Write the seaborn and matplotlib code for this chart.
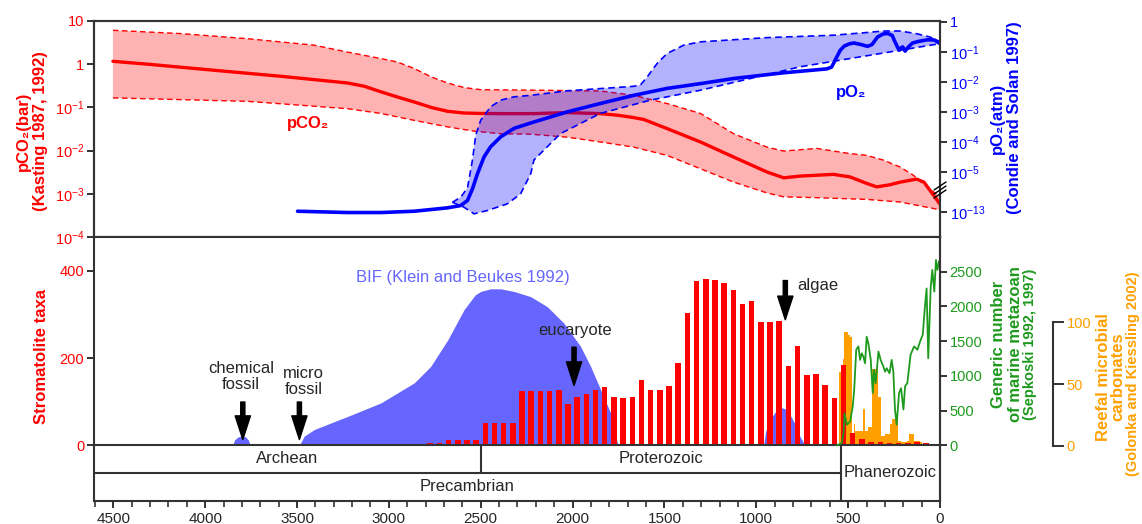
import numpy as np
import matplotlib
matplotlib.use("Agg")
import matplotlib.pyplot as plt
import seaborn as sns
from matplotlib.ticker import FixedLocator, NullLocator, MultipleLocator
from matplotlib.lines import Line2D

sns.set_style("ticks")
plt.rcParams['font.family'] = ['Liberation Sans', 'DejaVu Sans']
plt.rcParams['mathtext.fontset'] = 'custom'
plt.rcParams['mathtext.rm'] = 'Liberation Sans'
plt.rcParams['mathtext.it'] = 'Liberation Sans:italic'
plt.rcParams['mathtext.bf'] = 'Liberation Sans:bold'

# ---------------- data ----------------
# pCO2 (log10 bar), Kasting 1987, 1992
co2_age = [4502, 4312, 3950, 3587, 3406, 3225, 3134, 3043, 2953, 2862, 2766, 2681, 2591,
           2500, 2391, 2210, 2029, 1848, 1757, 1667, 1612, 1486, 1304, 1123, 942, 851, 761,
           580, 489, 399, 344, 272, 217, 127, 87, 0]
co2_mid = [0.067, 0.0, -0.141, -0.28, -0.357, -0.435, -0.51, -0.64, -0.76, -0.875, -1.005,
           -1.09, -1.13, -1.14, -1.144, -1.144, -1.12, -1.144, -1.18, -1.236, -1.28, -1.49,
           -1.80, -2.15, -2.495, -2.63, -2.59, -2.55, -2.61, -2.76, -2.84, -2.79, -2.73,
           -2.66, -2.73, -3.24]
co2_up_age = [4502, 4130, 3768, 3406, 3225, 3043, 2953, 2862, 2766, 2681, 2591, 2500, 2228,
              1848, 1667, 1486, 1304, 1123, 942, 851, 761, 670, 580, 489, 399, 308, 217,
              145, 72, 0]
co2_up = [0.785, 0.708, 0.59, 0.44, 0.28, 0.13, 0.05, -0.10, -0.30, -0.435, -0.54, -0.59,
          -0.60, -0.62, -0.72, -0.91, -1.14, -1.61, -1.92, -2.01, -1.98, -1.95, -2.01,
          -2.07, -2.11, -2.22, -2.38, -2.57, -2.84, -3.07]
co2_lo_age = [4502, 3768, 3225, 3043, 2862, 2681, 2536, 2391, 2228, 2029, 1848, 1667, 1486,
              1304, 1123, 942, 851, 670, 399, 217, 0]
co2_lo = [-0.78, -0.86, -1.03, -1.14, -1.30, -1.45, -1.55, -1.61, -1.62, -1.69, -1.80,
          -1.92, -2.11, -2.42, -2.73, -2.98, -3.07, -3.09, -3.13, -3.19, -3.37]

# pO2 (log10 atm), Condie and Solan 1997
o2_age = [3497, 3225, 3043, 2862, 2681, 2609, 2572, 2545, 2518, 2482, 2446, 2391, 2319,
          2228, 2029, 1848, 1667, 1486, 1304, 1123, 851, 616, 590, 565, 543, 521, 490, 467,
          430, 394, 370, 340, 310, 285, 260, 249, 230, 222, 210, 203, 190, 175, 150, 120,
          67, 30, 0]
o2_log = [-12.8, -13.06, -13.06, -12.8, -12.12, -11.66, -10.66, -8.32, -5.32, -4.49, -4.15,
          -3.82, -3.54, -3.36, -2.99, -2.71, -2.44, -2.21, -2.05, -1.88, -1.69, -1.56, -1.50,
          -1.2, -0.94, -0.80, -0.72, -0.70, -0.75, -0.81, -0.75, -0.50, -0.40, -0.38, -0.45,
          -0.61, -0.85, -0.94, -0.85, -0.83, -0.97, -0.85, -0.70, -0.65, -0.59, -0.60, -0.72]
o2_up_age = [2654, 2609, 2572, 2545, 2527, 2500, 2446, 2391, 2319, 2228, 2029, 1667, 1630,
             1594, 1540, 1486, 1395, 1304, 942, 580, 399, 308, 217, 127, 54, 0]
o2_up = [-11.0, -10.0, -8.12, -4.59, -3.76, -3.27, -2.82, -2.60, -2.49, -2.44, -2.29, -2.14,
         -2.09, -1.83, -1.38, -1.05, -0.77, -0.66, -0.52, -0.44, -0.35, -0.30, -0.30, -0.39,
         -0.50, -0.66]
o2_lo_age = [2654, 2591, 2536, 2464, 2355, 2283, 2228, 2210, 2065, 1848, 1576, 1304, 761,
             217, 0]
o2_lo = [-11.0, -12.0, -13.32, -12.66, -11.32, -9.32, -5.32, -4.59, -3.71, -3.04, -2.60,
         -2.27, -1.49, -0.94, -0.72]

# Stromatolite taxa (50 Ma bins)
strom_age = [2875, 2825, 2775, 2725, 2675, 2625, 2575, 2525, 2475, 2425, 2375, 2325, 2275,
             2225, 2175, 2125, 2075, 2025, 1975, 1925, 1875, 1825, 1775, 1725, 1675, 1625,
             1575, 1525, 1475, 1425, 1375, 1325, 1275, 1225, 1175, 1125, 1075, 1025, 975,
             925, 875, 825, 775, 725, 675, 625, 575, 525, 475, 425, 375, 325, 275, 225, 175,
             125, 75, 25]
strom_val = [3, 3, 5, 5, 11.5, 12, 11.5, 11.5, 50, 50, 50, 50, 124, 124, 124.5, 124, 126,
             94, 110, 117.6, 127, 133, 111.5, 108.4, 110, 149, 127.5, 126, 136.7, 188, 303,
             378, 382, 380, 373, 357, 323, 331, 283, 282, 286, 181, 228, 160, 163, 137, 108,
             185, 27, 14, 8, 8, 4, 4, 5, 8, 5, 2]

# BIF (Klein and Beukes 1992), same scale as stromatolite axis
bif_age = [3487, 3460, 3405, 3315, 3224, 3043, 2862, 2772, 2679, 2591, 2530, 2500, 2446,
           2391, 2319, 2228, 2138, 2047, 1957, 1902, 1848, 1793, 1757, 1750]
bif_val = [0, 21, 36, 51, 66, 97, 143, 181, 242, 311, 345, 353, 359, 359, 353, 341, 318,
           280, 227, 181, 128, 74, 6, 0]
bif2_age = [960, 950, 930, 915, 890, 860, 835, 810, 785, 761, 745, 734]
bif2_val = [0, 30, 55, 65, 80, 86, 82, 65, 45, 19, 7, 0]
bif3_age = [3850, 3840, 3820, 3800, 3780, 3765, 3755]
bif3_val = [0, 12, 19, 21, 19, 12, 0]

# Reefal microbial carbonates (Golonka and Kiessling 2002)
reef_age = [545, 535, 525, 515, 505, 495, 485, 475, 465, 455, 445, 435, 425, 415, 405, 395,
            385, 375, 365, 355, 345, 335, 325, 315, 305, 295, 285, 275, 265, 255, 245, 235,
            225, 215, 205, 195, 185, 175, 165, 155, 145, 135, 125, 115, 105, 95, 85, 75, 65,
            55, 45, 35, 25, 15, 5]
reef_val = [60, 65, 70, 92, 92, 90, 88, 10, 18, 12, 12, 12, 12, 30, 12, 12, 15, 15, 62, 62,
            62, 40, 40, 8, 8, 10, 10, 10, 18, 22, 22, 22, 4, 4, 3, 3, 3, 4, 10, 10, 10, 4, 4,
            4, 3, 2, 2, 2, 2, 2, 1.5, 1.5, 1.5, 1.5, 1]

# Generic number of marine metazoan (Sepkoski 1992, 1997)
gen_age = [561, 534, 525, 520, 507, 489, 475, 467, 456, 444, 435, 426, 417, 408, 399, 390,
           377, 366, 359, 350, 335, 323, 308, 299, 290, 275, 263, 254, 245, 236, 223, 212,
           199, 190, 178, 160, 141, 123, 105, 94, 82, 73, 64, 51, 42, 31, 22, 14, 5, 0]
gen_val = [0, 38, 178, 465, 297, 345, 563, 803, 1376, 1424, 1230, 1325, 1276, 1181, 1563,
           1468, 1230, 755, 1088, 895, 1350, 1230, 1133, 1061, 1110, 1038, 1230, 1061, 516,
           297, 751, 823, 516, 850, 895, 1305, 1424, 1376, 1520, 1590, 1997, 2257, 1253,
           2257, 2524, 2212, 2667, 2524, 2650, 2571]

# Geologic time scale
eon_names = ["Archean", "Proterozoic", "Phanerozoic"]
eon_bounds = [2500, 541]

# ---------------- styles ----------------
RED = "#ff0000"
BLUE = "#0000ff"
BIFC = "#6666ff"
GREEN = "#1e9a1e"
ORANGE = "#ffa000"
SPINE = "#333333"
X_LEFT = 4605

W, H = 1142, 524
fig = plt.figure(figsize=(W / 100, H / 100), dpi=100)
fig.patch.set_facecolor("white")

ax1 = fig.add_axes([94 / W, 1 - 237 / H, 846 / W, 216 / H])
ax2 = ax1.twinx()
ax3 = fig.add_axes([94 / W, 1 - 501 / H, 846 / W, 264 / H])
axo = ax3.twinx()
axg = ax3.twinx()

axo.set_zorder(1)
ax3.set_zorder(2)
axg.set_zorder(3)
ax3.patch.set_visible(False)
axg.patch.set_visible(False)
axo.patch.set_visible(True)
axo.patch.set_facecolor("white")

for a in (ax1, ax2, ax3, axo, axg):
    for s in a.spines.values():
        s.set_color(SPINE)
        s.set_linewidth(1.5)
    a.tick_params(direction="out", length=5, width=1.4, color=SPINE, labelsize=10.5, pad=2)

# ---------------- top panel: pCO2 ----------------
ax1.set_yscale("log")
ax1.set_xlim(X_LEFT, 0)
ax1.set_ylim(1e-4, 10)
poly_x = np.r_[co2_up_age, co2_lo_age[::-1]]
poly_y = 10 ** np.r_[co2_up, co2_lo[::-1]]
ax1.fill(poly_x, poly_y, color=RED, alpha=0.3, lw=0)
ax1.plot(co2_up_age, 10 ** np.array(co2_up), color=RED, lw=1.0, ls=(0, (4, 2.5)))
ax1.plot(co2_lo_age, 10 ** np.array(co2_lo), color=RED, lw=1.0, ls=(0, (4, 2.5)))
sns.lineplot(x=co2_age, y=10 ** np.array(co2_mid), ax=ax1, color=RED, lw=2.4,
             estimator=None, sort=False)
ax1.yaxis.set_major_locator(FixedLocator([10, 1, 1e-1, 1e-2, 1e-3, 1e-4]))
ax1.yaxis.set_minor_locator(NullLocator())
ax1.set_yticklabels(["10", "1", r"10$^{\mathregular{-1}}$", r"10$^{\mathregular{-2}}$",
                     r"10$^{\mathregular{-3}}$", r"10$^{\mathregular{-4}}$"])
ax1.tick_params(axis="y", labelcolor=RED)
ax1.tick_params(axis="x", bottom=False, labelbottom=False, which="both")
ax1.text(3440, 10 ** -1.38, "pCO₂", color=RED, fontsize=12, fontweight="bold",
         ha="center", va="center")

# ---------------- top panel: pO2 (broken axis) ----------------
BREAK = 1.329 / 8.0


def fwd(p):
    p = np.asarray(p, dtype=float)
    with np.errstate(divide="ignore", invalid="ignore"):
        lp = np.log10(np.clip(p, 1e-300, None))
    return np.where(lp >= -5, lp, -5 + (lp + 5) * BREAK)


def inv(v):
    v = np.asarray(v, dtype=float)
    with np.errstate(over="ignore", under="ignore"):
        return np.where(v >= -5, 10.0 ** v, 10.0 ** (-5 + (v + 5) / BREAK))


ax2.set_yscale("function", functions=(fwd, inv))
ax2.set_ylim(float(inv(-7.153)), float(inv(0.033)))
o2_poly_x = np.r_[o2_up_age, o2_lo_age[::-1]]
o2_poly_y = 10 ** np.r_[o2_up, o2_lo[::-1]]
ax2.fill(o2_poly_x, o2_poly_y, color=BLUE, alpha=0.3, lw=0)
ax2.plot(o2_up_age, 10 ** np.array(o2_up), color=BLUE, lw=1.2, ls=(0, (4, 2.5)))
ax2.plot(o2_lo_age, 10 ** np.array(o2_lo), color=BLUE, lw=1.2, ls=(0, (4, 2.5)))
ax2.plot(o2_age, 10 ** np.array(o2_log), color=BLUE, lw=2.6, solid_capstyle="round",
         solid_joinstyle="round")
ax2.yaxis.set_major_locator(FixedLocator([1, 1e-1, 1e-2, 1e-3, 1e-4, 1e-5, 1e-13]))
ax2.yaxis.set_minor_locator(NullLocator())
ax2.set_yticklabels(["1", r"10$^{\mathregular{-1}}$", r"10$^{\mathregular{-2}}$",
                     r"10$^{\mathregular{-3}}$", r"10$^{\mathregular{-4}}$",
                     r"10$^{\mathregular{-5}}$", r"10$^{\mathregular{-13}}$"])
ax2.tick_params(axis="y", labelcolor=BLUE)
ax2.text(482, 10 ** -2.33, "pO₂", color=BLUE, fontsize=12, fontweight="bold",
         ha="center", va="center")

# axis break marks on the right spine
for dy in (-4, 0, 4):
    yc = 190 + dy
    fig.add_artist(Line2D([(940 - 6) / W, (940 + 6) / W],
                          [1 - (yc + 4) / H, 1 - (yc - 4) / H],
                          transform=fig.transFigure, color="black", lw=1.0))

# ---------------- bottom panel ----------------
ax3.set_xlim(X_LEFT, 0)
ax3.set_ylim(-128.3, 478)
ax3.fill_between(bif_age, bif_val, color=BIFC, lw=0, zorder=1)
ax3.fill_between(bif2_age, bif2_val, color=BIFC, lw=0, zorder=1)
ax3.fill_between(bif3_age, bif3_val, color=BIFC, lw=0, zorder=1)
ax3.bar(strom_age, strom_val, width=30, color=RED, lw=0, zorder=3)
ax3.yaxis.set_major_locator(FixedLocator([0, 200, 400]))
ax3.yaxis.set_minor_locator(NullLocator())
ax3.tick_params(axis="y", labelcolor=RED)
ax3.xaxis.set_major_locator(MultipleLocator(500))
ax3.xaxis.set_minor_locator(MultipleLocator(100))
ax3.tick_params(axis="x", which="major", length=5, pad=3, labelsize=11)
ax3.tick_params(axis="x", which="minor", direction="out", length=4, width=1.2, color=SPINE)

# geologic time scale rows
ax3.axhline(0, color=SPINE, lw=1.5, zorder=4)
ax3.plot([X_LEFT, eon_bounds[1]], [-63, -63], color=SPINE, lw=1.5, zorder=4)
ax3.plot([eon_bounds[0], eon_bounds[0]], [0, -63], color=SPINE, lw=1.5, zorder=4)
ax3.plot([eon_bounds[1], eon_bounds[1]], [0, -128.3], color=SPINE, lw=1.5, zorder=4)
ax3.text((X_LEFT + eon_bounds[0]) / 2, -31.6, eon_names[0], ha="center", va="center", fontsize=12)
ax3.text((eon_bounds[0] + eon_bounds[1]) / 2, -31.6, eon_names[1], ha="center", va="center", fontsize=12)
ax3.text(eon_bounds[1] / 2, -63, eon_names[2], ha="center", va="center", fontsize=12)
ax3.text((X_LEFT + eon_bounds[1]) / 2, -94.6, "Precambrian", ha="center", va="center", fontsize=12)

# annotations
arrow = dict(facecolor="black", edgecolor="black", width=3, headwidth=11, headlength=17, shrink=0)
ax3.annotate("", xy=(3795, 13), xytext=(3795, 99), arrowprops=arrow, zorder=5)
ax3.annotate("", xy=(3487, 13), xytext=(3487, 99), arrowprops=arrow, zorder=5)
ax3.annotate("", xy=(1992, 137), xytext=(1992, 225), arrowprops=arrow, zorder=5)
ax3.annotate("", xy=(842, 288), xytext=(842, 378), arrowprops=arrow, zorder=5)
ax3.text(3804, 158, "chemical\nfossil", ha="center", va="center", fontsize=12, linespacing=1.1)
ax3.text(3465, 147, "micro\nfossil", ha="center", va="center", fontsize=12, linespacing=1.1)
ax3.text(1987, 263, "eucaryote", ha="center", va="center", fontsize=12)
ax3.text(778, 367, "algae", ha="left", va="center", fontsize=12)
ax3.text(3179, 385, "BIF (Klein and Beukes 1992)", ha="left", va="center", fontsize=12,
         color=BIFC)

# orange axis
axo.set_ylim(-44.5, 169)
axo.bar(reef_age, reef_val, width=10, color=ORANGE, lw=0)
axo.spines["right"].set_position(("axes", (1052.7 - 94) / 846))
axo.spines["right"].set_bounds(0, 100)
for s in ("left", "top", "bottom"):
    axo.spines[s].set_visible(False)
axo.yaxis.set_major_locator(FixedLocator([0, 50, 100]))
axo.yaxis.set_minor_locator(NullLocator())
axo.tick_params(axis="y", labelcolor=ORANGE, length=8)

# green axis
axg.set_ylim(-799, 2997)
sns.lineplot(x=gen_age, y=gen_val, ax=axg, color=GREEN, lw=1.3, estimator=None, sort=False)
for s in ("left", "top", "bottom"):
    axg.spines[s].set_visible(False)
axg.yaxis.set_major_locator(FixedLocator([0, 500, 1000, 1500, 2000, 2500]))
axg.yaxis.set_minor_locator(NullLocator())
axg.tick_params(axis="y", labelcolor=GREEN)
for a in (ax1, ax2, ax3, axo, axg):
    a.set_xlabel("")
    a.set_ylabel("")


# ---------------- axis titles ----------------
def ftxt(xpx, ypx, s, **kw):
    fig.text(xpx / W, 1 - ypx / H, s, rotation=90, ha="center", va="center",
             fontweight="bold", **kw)


ftxt(32, 131, "pCO₂(bar)\n(Kasting 1987, 1992)", color=RED, fontsize=12, linespacing=1.1)
ftxt(42, 357, "Stromatolite taxa", color=RED, fontsize=12)
ftxt(1006, 118, "pO₂(atm)\n(Condie and Solan 1997)", color=BLUE, fontsize=12, linespacing=1.1)
ftxt(998, 344, "Generic number", color=GREEN, fontsize=12)
ftxt(1015, 344, "of marine metazoan", color=GREEN, fontsize=12)
ftxt(1030, 344, "(Sepkoski 1992, 1997)", color=GREEN, fontsize=10.5)
ftxt(1103, 377, "Reefal microbial", color=ORANGE, fontsize=12)
ftxt(1118, 377, "carbonates", color=ORANGE, fontsize=12)
ftxt(1133, 374, "(Golonka and Kiessling 2002)", color=ORANGE, fontsize=10.5)

fig.savefig("out.png", dpi=100, facecolor="white")
